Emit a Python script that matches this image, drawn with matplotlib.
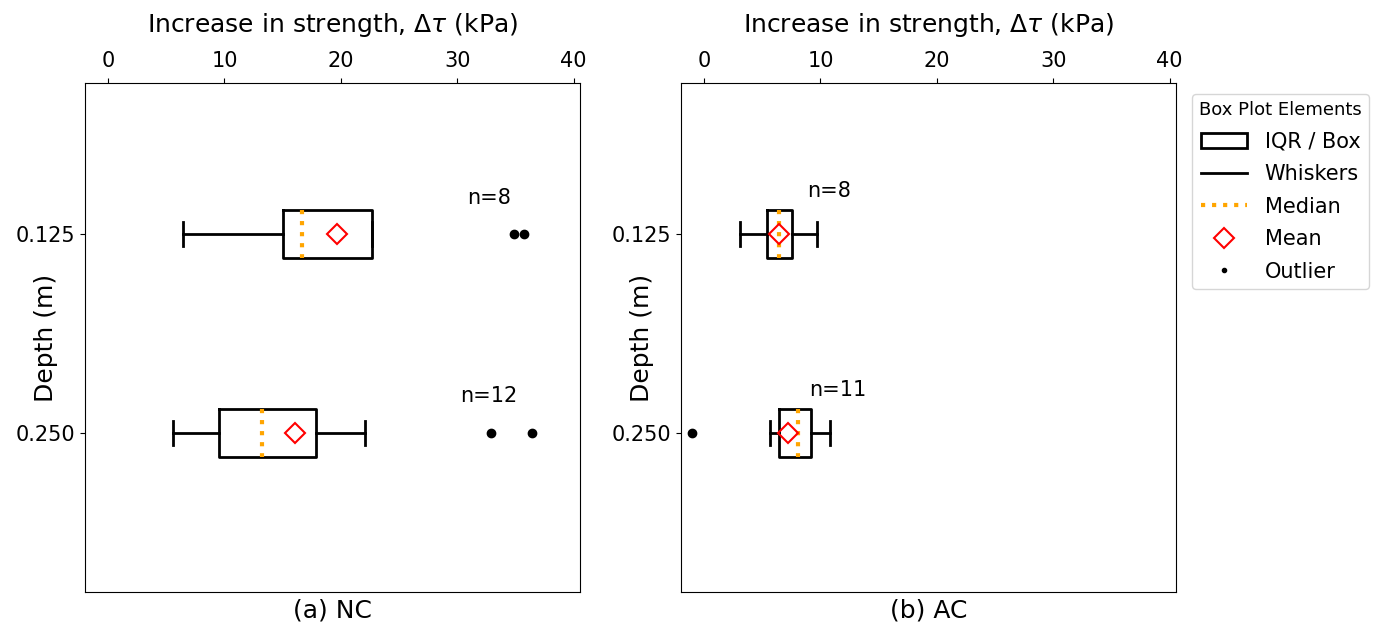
import matplotlib
matplotlib.use("Agg")
import matplotlib.pyplot as plt
from matplotlib.patches import Patch
from matplotlib.lines import Line2D

plt.rcParams['font.family'] = ['DejaVu Sans']

depths = [0.125, 0.250]
depth_labels = ["0.125", "0.250"]

# Panel (a) NC
nc_whislo = [6.45, 5.6]
nc_q1 = [15.0, 9.5]
nc_med = [16.7, 13.2]
nc_q3 = [22.7, 17.9]
nc_whishi = [22.7, 22.05]
nc_mean = [19.7, 16.1]
nc_fliers = [[34.9, 35.7], [32.9, 36.4]]
nc_n = ["n=8", "n=12"]
nc_n_x = [32.7, 32.7]

# Panel (b) AC
ac_whislo = [3.1, 5.7]
ac_q1 = [5.45, 6.4]
ac_med = [6.4, 8.05]
ac_q3 = [7.55, 9.2]
ac_whishi = [9.7, 10.8]
ac_mean = [6.4, 7.25]
ac_fliers = [[], [-1.05]]
ac_n = ["n=8", "n=11"]
ac_n_x = [10.7, 11.5]

xticks = [0, 10, 20, 30, 40]

fig = plt.figure(figsize=(13.76, 6.24), dpi=100)
ax1 = fig.add_axes([85/1376, 1-592/624, 495/1376, 509/624])
ax2 = fig.add_axes([681/1376, 1-592/624, 495/1376, 509/624])

FS = 15

def panel(ax, whislo, q1, med, q3, whishi, mean, fliers, ntext, nx, label, ny_off):
    stats = []
    for i in range(len(depths)):
        stats.append(dict(whislo=whislo[i], q1=q1[i], med=med[i], q3=q3[i],
                          whishi=whishi[i], mean=mean[i], fliers=fliers[i]))
    ax.bxp(stats, positions=depths, widths=0.03, vert=False, showmeans=True,
           patch_artist=False,
           boxprops=dict(color='black', linewidth=2),
           whiskerprops=dict(color='black', linewidth=2),
           capprops=dict(color='black', linewidth=2),
           medianprops=dict(color='orange', linewidth=3, linestyle=':'),
           meanprops=dict(marker='D', markerfacecolor='none', markeredgecolor='red',
                          markersize=10, markeredgewidth=1.5),
           flierprops=dict(marker='o', markerfacecolor='black', markeredgecolor='black',
                           markersize=6))
    for i in range(len(depths)):
        ax.text(nx[i], depths[i] - ny_off, ntext[i], ha='center', va='center', fontsize=FS)
    ax.set_xlim(-1.98, 40.54)
    ax.set_ylim(0.35, 0.03)
    ax.set_yticks(depths)
    ax.set_yticklabels(depth_labels)
    ax.set_xticks(xticks)
    ax.xaxis.tick_top()
    ax.xaxis.set_label_position('top')
    ax.set_xlabel(r'Increase in strength, $\Delta\tau$ (kPa)', fontsize=18, labelpad=14)
    ax.set_ylabel('Depth (m)', fontsize=18)
    ax.yaxis.set_label_coords(-0.055, 0.5)
    ax.tick_params(labelsize=FS)
    ax.tick_params(axis='x', pad=5)
    ax.text(0.5, -0.012, label, transform=ax.transAxes, ha='center', va='top', fontsize=18)

panel(ax1, nc_whislo, nc_q1, nc_med, nc_q3, nc_whishi, nc_mean, nc_fliers, nc_n, nc_n_x, '(a) NC', 0.023)
panel(ax2, ac_whislo, ac_q1, ac_med, ac_q3, ac_whishi, ac_mean, ac_fliers, ac_n, ac_n_x, '(b) AC', 0.027)

handles = [
    Patch(facecolor='white', edgecolor='black', linewidth=2, label='IQR / Box'),
    Line2D([], [], color='black', linewidth=2, label='Whiskers'),
    Line2D([], [], color='orange', linewidth=3, linestyle=':', label='Median'),
    Line2D([], [], marker='D', color='none', markerfacecolor='none', markeredgecolor='red',
           markersize=10, markeredgewidth=1.5, label='Mean'),
    Line2D([], [], marker='.', color='none', markerfacecolor='black', markeredgecolor='black',
           markersize=6, label='Outlier'),
]
leg = fig.legend(handles=handles, title='Box Plot Elements', loc='upper left',
                 bbox_to_anchor=(1192/1376, 1-94/624), borderaxespad=0,
                 fontsize=FS, title_fontsize=13, borderpad=0.35, labelspacing=0.6,
                 handlelength=2.2, handletextpad=0.85, frameon=True)

fig.savefig('out.png', dpi=100)
